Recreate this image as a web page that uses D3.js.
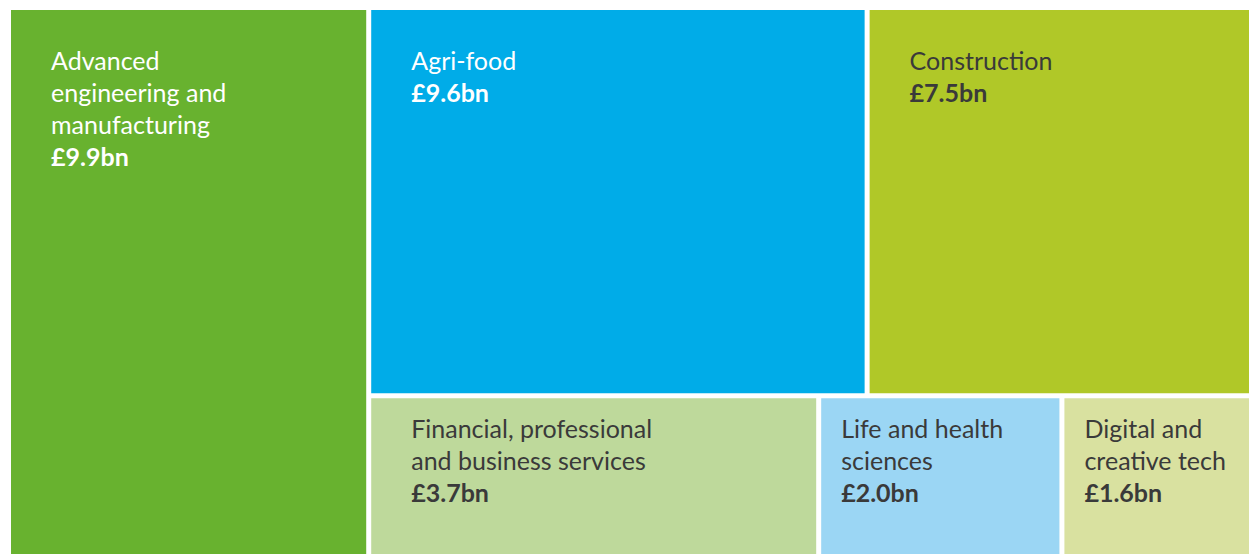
<!DOCTYPE html>
<html>
<head>
<meta charset="utf-8">
<script src="https://cdn.jsdelivr.net/npm/d3@7"></script>
<style>
  body { margin: 0; background: #fff; }
  svg { display: block; }
</style>
</head>
<body>
<svg id="chart"></svg>
<script>
const width = 1249;
const height = 554;

// sectors, values (£bn), and which block of the layout they sit in
const sectors = [
  "Advanced engineering and manufacturing",
  "Agri-food",
  "Construction",
  "Financial, professional and business services",
  "Life and health sciences",
  "Digital and creative tech"
];
const values = [9.9, 9.6, 7.5, 3.7, 2.0, 1.6];
const blocks = ["main", "top", "top", "bottom", "bottom", "bottom"];
const labelLines = [
  ["Advanced", "engineering and", "manufacturing"],
  ["Agri-food"],
  ["Construction"],
  ["Financial, professional", "and business services"],
  ["Life and health", "sciences"],
  ["Digital and", "creative tech"]
];

const color = d3.scaleOrdinal()
  .domain(sectors)
  .range(["#68b22f", "#00ace8", "#b0c828", "#bed99b", "#9bd6f4", "#d9e1a0"]);

const textColor = d3.scaleOrdinal()
  .domain(sectors)
  .range(["#ffffff", "#ffffff", "#3a3a3a", "#3a3a3a", "#3a3a3a", "#3a3a3a"]);

const leaves = sectors.map((name, i) => ({
  name, value: values[i], block: blocks[i], lines: labelLines[i]
}));

const tree = {
  name: "root",
  children: [
    ...leaves.filter(d => d.block === "main"),
    {
      name: "rest",
      children: [
        { name: "top", children: leaves.filter(d => d.block === "top") },
        { name: "bottom", children: leaves.filter(d => d.block === "bottom") }
      ]
    }
  ]
};

const root = d3.hierarchy(tree)
  .sum(d => d.children ? 0 : d.value);

d3.treemap()
  .tile(d3.treemapSliceDice)
  .size([width - 11 + 5, height - 10 + 5])
  .paddingInner(5)
  (root);

const svg = d3.select("#chart")
  .attr("width", width)
  .attr("height", height);

const g = svg.append("g")
  .attr("transform", "translate(11,10)");

const cell = g.selectAll("g")
  .data(root.leaves())
  .join("g")
  .attr("transform", d => `translate(${d.x0},${d.y0})`);

cell.append("rect")
  .attr("width", d => d.x1 - d.x0)
  .attr("height", d => d.y1 - d.y0)
  .attr("fill", d => color(d.data.name));

const font = "Lato, 'Open Sans', sans-serif";

cell.each(function (d) {
  const h = d.y1 - d.y0;
  const w = d.x1 - d.x0;
  const padX = w > 300 ? 40 : 20;
  const padY = h > 200 ? 60 : 40;
  const t = d3.select(this).append("text")
    .attr("x", padX)
    .attr("y", padY)
    .attr("fill", textColor(d.data.name))
    .style("font-family", font)
    .style("font-size", "25px");
  d.data.lines.forEach((line, i) => {
    t.append("tspan")
      .attr("x", padX)
      .attr("dy", i === 0 ? 0 : 32)
      .text(line);
  });
  t.append("tspan")
    .attr("x", padX)
    .attr("dy", 32)
    .style("font-weight", "bold")
    .text(`£${d3.format(".1f")(d.data.value)}bn`);
});
</script>
</body>
</html>
